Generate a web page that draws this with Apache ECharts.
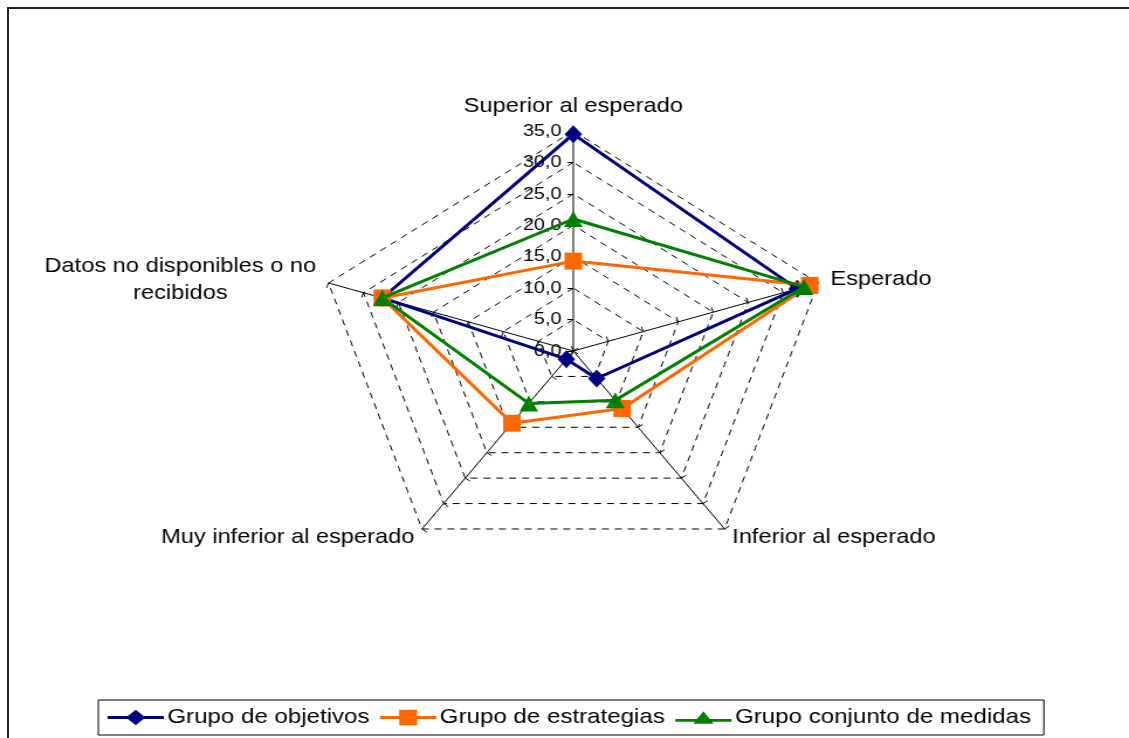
<!DOCTYPE html>
<html lang="es">
    <head>
        <meta charset="UTF-8">
        <title>Radar</title>
        <script src="https://cdn.jsdelivr.net/npm/echarts@6/dist/echarts.min.js"></script>
        <style>
            html, body {
                margin: 0;
                height: 100%;
                background: #fff;
                overflow: hidden;
            }
            #frame {
                position: absolute;
                left: 7px;
                top: 7px;
                right: 0;
                bottom: 0;
                border-left: 2px solid #222;
                border-top: 2px solid #222;
            }
            /* el grafico original esta estirado a lo ancho */
            #main {
                position: absolute;
                left: 0;
                top: 0;
                width: 965px;
                height: 738px;
                transform: scaleX(1.17);
                transform-origin: 0 0;
            }
        </style>
    </head>
    <body>
        <div id="frame"></div>
        <!--contenedor del grafico-->
        <div id="main"></div>
    </body>
</html>
<script>
    // indicadores del radar (en sentido horario desde arriba)
    var categorias = ['Superior al esperado', 'Esperado', 'Inferior al esperado',
        'Muy inferior al esperado', 'Datos no disponibles o no\nrecibidos'];
    var maximo = 35;

    // valores
    var grupoObjetivos = [34.5, 32.0, 5.4, 1.6, 27.3];
    var grupoEstrategias = [14.3, 33.8, 11.3, 14.2, 27.3];
    var grupoConjunto = [21.0, 33.0, 9.7, 10.3, 27.3];

    var nombres = ['Grupo de objetivos', 'Grupo de estrategias', 'Grupo conjunto de medidas'];
    var colores = ['#000080', '#ff6600', '#008000'];
    var simbolos = ['diamond', 'rect', 'triangle'];
    var tamanos = [[15, 18], [15, 17], [16, 16]];
    var iconos = [
        'path://M0,6.5L18,6.5L25,0L32,6.5L50,6.5L50,9.5L32,9.5L25,16L18,9.5L0,9.5Z',
        'path://M0,6.5L17,6.5L17,0L33,0L33,6.5L50,6.5L50,9.5L33,9.5L33,16L17,16L17,9.5L0,9.5Z',
        'path://M0,9L19.3,9L25,1L30.7,9L50,9L50,12L32.6,12L34,14L16,14L17.4,12L0,12Z'
    ];

    // echarts dibuja el radar al reves (antihorario): reordenar
    var orden = [0, 4, 3, 2, 1];
    function ordenar(arr) {
        return orden.map(function (j) { return arr[j]; });
    }

    var myChart = echarts.init(document.getElementById('main'));

    var indicadores = [];
    for (var i = 0; i < orden.length; i++) {
        var j = orden[i];
        indicadores.push({
            name: categorias[j],
            min: 0,
            max: maximo,
            // solo el primer eje lleva etiquetas
            axisLabel: {show: j == 0},
            axisLine: {lineStyle: {color: j == 0 ? '#808080' : '#000', width: j == 0 ? 2 : 1}}
        });
    }

    var valores = [grupoObjetivos, grupoEstrategias, grupoConjunto];
    var series = [];
    var leyenda = [];
    for (var k = 0; k < valores.length; k++) {
        series.push({
            type: 'radar',
            name: nombres[k],
            symbol: simbolos[k],
            symbolSize: tamanos[k],
            lineStyle: {color: colores[k], width: 3},
            itemStyle: {color: colores[k]},
            z: 2 + k,
            data: [{value: ordenar(valores[k]), name: nombres[k]}]
        });
        leyenda.push({name: nombres[k], icon: iconos[k]});
    }

    var option = {
        animation: false,
        textStyle: {fontFamily: 'Liberation Sans, Arial, sans-serif'},
        legend: {
            bottom: 3,
            left: 84,
            data: leyenda,
            borderColor: '#000',
            borderWidth: 1,
            borderRadius: 0,
            padding: [7, 11, 7, 8],
            itemGap: 9,
            itemWidth: 48,
            itemHeight: 16,
            itemStyle: {borderWidth: 0},
            lineStyle: {width: 0},
            textStyle: {fontSize: 20.6, color: '#000', padding: [0, 0, 0, -2]}
        },
        radar: {
            center: [490, 351],
            radius: 220,
            startAngle: 90,
            shape: 'polygon',
            splitNumber: 7,
            indicator: indicadores,
            axisName: {
                color: '#000',
                fontSize: 20.2,
                lineHeight: 27,
                formatter: function (name) {
                    return name.split('\n').map(function (s) { return '{c|' + s + '}'; }).join('\n');
                },
                rich: {c: {align: 'center', fontSize: 20.2, lineHeight: 27, color: '#000'}}
            },
            nameGap: 11,
            axisLine: {show: true, lineStyle: {color: '#000', width: 1}},
            axisTick: {show: true, length: 5, lineStyle: {color: '#000'}},
            axisLabel: {
                show: true,
                color: '#000',
                fontSize: 17,
                margin: 10,
                formatter: function (v) { return v.toFixed(1).replace('.', ','); }
            },
            splitLine: {lineStyle: {color: '#000', type: [6, 5], width: 1}},
            splitArea: {show: false}
        },
        series: series
    };

    myChart.setOption(option);
</script>
